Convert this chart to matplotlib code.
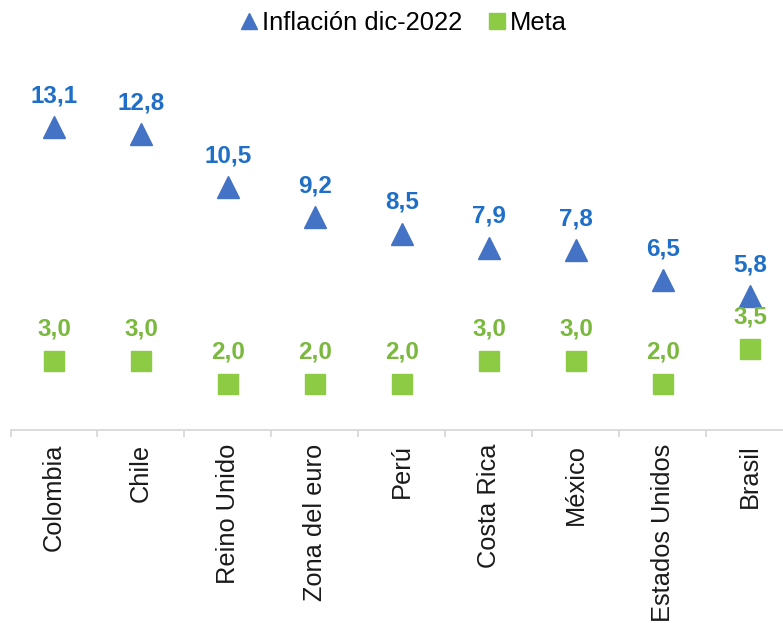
import matplotlib
matplotlib.use("Agg")
import matplotlib.pyplot as plt
import numpy as np

categories = ["Colombia", "Chile", "Reino Unido", "Zona del euro", "Perú",
              "Costa Rica", "México", "Estados Unidos", "Brasil"]
inflacion = [13.1, 12.8, 10.5, 9.2, 8.5, 7.9, 7.8, 6.5, 5.8]
meta = [3.0, 3.0, 2.0, 2.0, 2.0, 3.0, 3.0, 2.0, 3.5]

plt.rcParams['font.family'] = ['Liberation Sans', 'DejaVu Sans']

W, H = 783, 623
fig = plt.figure(figsize=(W/100, H/100), dpi=100)
ppu = 23.1
ymax = 16.0
top_px = 430 - ymax*ppu
left_px, right_px = 10.5, 793.5
ax = fig.add_axes([left_px/W, 1 - 430/H, (right_px-left_px)/W, (430-top_px)/H])
x = np.arange(len(categories))
ax.set_xlim(-0.5, len(categories) - 0.5)
ax.set_ylim(0, ymax)

tri_c = "#4472C4"
sq_c = "#8DCB45"
ax.plot(x, inflacion, linestyle='none', marker='^', markersize=15.5, color=tri_c,
        label="Inflación dic-2022", clip_on=False)
ax.plot(x, meta, linestyle='none', marker='s', markersize=15, color=sq_c,
        label="Meta", clip_on=False)

for xi, v in zip(x, inflacion):
    ax.annotate(f"{v:.1f}".replace('.', ','), (xi, v), xytext=(0, 22.5),
                textcoords='offset points', ha='center', va='center',
                fontsize=17.5, fontweight='bold', color="#1F6FC8")
for xi, v in zip(x, meta):
    ax.annotate(f"{v:.1f}".replace('.', ','), (xi, v), xytext=(0, 23),
                textcoords='offset points', ha='center', va='center',
                fontsize=17.5, fontweight='bold', color="#7AB83E")

for s in ['top', 'right', 'left']:
    ax.spines[s].set_visible(False)
ax.spines['bottom'].set_color("#D9D9D9")
ax.spines['bottom'].set_linewidth(1.3)
ax.set_yticks([])
ax.set_xticks(x)
ax.set_xticklabels(categories, rotation=90, fontsize=18.3, color="#1a1a1a")
ax.tick_params(axis='x', which='major', length=0, pad=10)
ax.set_xticks(np.arange(-0.5, len(categories), 1.0), minor=True)
ax.tick_params(axis='x', which='minor', length=5, color="#D9D9D9", width=1.3)

handles, labels = ax.get_legend_handles_labels()
leg = fig.legend(handles, labels, loc='center', bbox_to_anchor=(404/W, 1 - 23/H),
                 ncol=2, frameon=False, fontsize=18.4, handlelength=0.6,
                 handletextpad=0.2, columnspacing=1.05, markerscale=0.75)

fig.savefig("out.png", dpi=100)
